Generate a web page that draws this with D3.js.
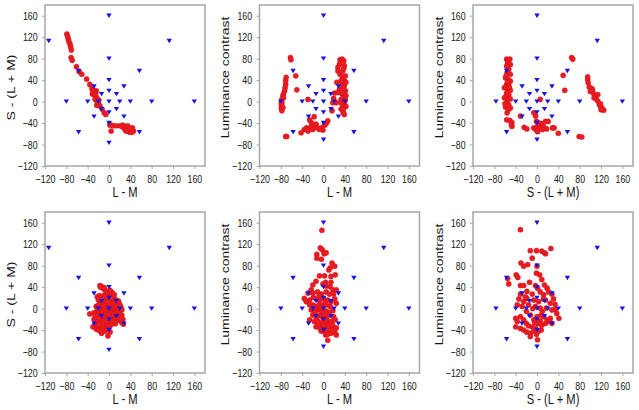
<!DOCTYPE html>
<html><head><meta charset="utf-8">
<script src="https://cdn.jsdelivr.net/npm/d3@7"></script>
<style>
body{margin:0;background:#fff;}
svg{display:block;font-family:"Liberation Sans",Arial,Helvetica,sans-serif;}
</style>
</head><body>
<svg id="chart" width="639" height="410"></svg>
<script>
// ---------- data ----------
const tickValues = [-120, -80, -40, 0, 40, 80, 120, 160];

const xTitles = ["L - M", "L - M", "S - (L + M)", "L - M", "L - M", "S - (L + M)"];
const yTitles = ["S - (L + M)", "Luminance contrast", "Luminance contrast",
                 "S - (L + M)", "Luminance contrast", "Luminance contrast"];

// reference stimuli (blue triangles)
const refA = [[0,160],[-113,113],[113,113],[0,80],[-57,57],[57,57],[0,40],[-28,28],[28,28],[0,20],
  [-14,14],[14,14],[-80,0],[-40,0],[-20,0],[0,0],[20,0],[40,0],[80,0],[160,0],[-14,-14],[14,-14],
  [0,-20],[-28,-28],[28,-28],[0,-40],[-57,-57],[57,-57],[0,-77]];
const refB = [[0,160],[113,113],[0,80],[-57,57],[57,57],[0,40],[-28,28],[28,28],[0,20],
  [-14,14],[14,14],[-80,0],[-40,0],[-20,0],[0,0],[20,0],[40,0],[80,0],[160,0],[-14,-14],[14,-14],
  [0,-20],[-28,-28],[28,-28],[0,-40],[-57,-57],[57,-57],[0,-71]];
const refC = [[0,160],[113,113],[0,80],[-57,57],[57,57],[0,40],[-28,28],[28,28],[0,20],
  [-14,14],[14,14],[-77,0],[-40,0],[-20,0],[0,0],[20,0],[40,0],[80,0],[160,0],[-14,-14],[14,-14],
  [0,-20],[-28,-28],[28,-28],[0,-40],[-57,-57],[57,-57],[0,-71]];

// responses (red dots)
const resp1 = [[-79,126],[-77.5,121],[-76,116],[-75,111],[-73,107],[-72,102],[-70.6,96],[-71,82],[-69,77],
  [-61,65],[-56,56],[-51,51],[-42,42],[-36,32],[-32,24],[-29,22],[-27.5,17],[-26,11],[-23,7],[-22,1],
  [-20,-3],[-17,-8],[-13,-14],[-9,-21],[-6,-24],[-31,14],[-24,20],[-26,4],[-19,3],[-23,-7],[-30,18],
  [-25,14],[-21,-1],
  [2,-44],[4,-55],[8,-45],[14,-45],[21,-45],[26,-44],[30,-47],[33,-49],[35,-52],[38,-53],[41,-52],
  [42,-55],[46,-55],[39,-57],[36,-55],[44,-49],[30,-52],[35,-45],[32,-55],[27,-48],[2,-42],[24,-46],
  [40,-50],[43,-57]];

const resp2 = [[-70,45],[-71,39],[-71,32],[-72,26],[-73,20],[-75,14],[-76,11],[-78,4],[-79,-1],[-79,-7],
  [-79,-13],[-78,-17],[-76,-11],[-78,-3],[-75,7],[-62,82],[-61,78],[-52,48],[-50,22],[-71,-65],[-69,-65],
  [-42,-58],[-36,-52],[-32,-49],[-29,-55],[-26,-50],[-23,-47],[-20,-52],[-17,-45],[-14,-42],[-11,-49],
  [-23,-39],[-26,-34],[-17.5,-28],[-29,4],[-4,-49],[2,-44],[5,-41],[8,-36],[-1,-53],[-7.5,-52],[-30,-53],
  [16,-17],[17.5,-2],[19,6],[21,16],
  [31,78],[35,79],[38,76],[30,70],[27,64],[27,57],[31,51],[36,57],[39,67],[36,45],[39,39],[35,32],[39,29],
  [36,23],[41,20],[35,14],[39,9],[33,4],[39,-2],[36,-8],[42,-9],[33,-14],[37,-21],[39,-24],[41,48],[42,36],
  [37,26],[42,11],[33,39],[30,23],[27,17],[33,-2],[24,-2],[25,36],[38,62],[41,3],[37,-15]];

const resp3 = [[-57,79],[-51,79],[-55,72],[-50,69],[-57,66],[-53,60],[-56,54],[-50,51],[-59,44],[-54,41],
  [-50,38],[-57,32],[-53,30],[-61,26],[-55,22],[-50,21],[-57,16],[-53,13],[-59,9],[-55,4],[-50,5],[-57,-2],
  [-53,-6],[-59,-10],[-54,-15],[-50,-12],[-56,-21],[-61,7],[-57,-34],[-51,-35],[-48,-43],[-47,-39],[-47,-46],
  [-58,48],[-52,26],[-60,-4],[-55,36],
  [-31,-27],[-24,-48],[-19,-51],[-6,-49],[-2.5,-52],[1,-46],[4,-49],[1,-56],[-2.5,-27],[-1,-37],[4,-40],
  [8,-41],[12,-46],[18,-51],[16,-37],[21,-37],[29,-49],[32,-49],[10,-52],[40,-59],[6,4],[-6,-21],
  [49,49],[52,21],[65,82],[67,79],[79,-65],[84,-66],
  [95,46],[95,41],[96,35],[98,27],[103,24],[104,21],[106,15],[109,10],[111,5],[114,1],[117,-6],[120,-10],
  [123,-14],[125,-16],[120,-15],[119,-4],[114,13],[107,7],[100,19]];

const resp4 = [[-17,43],[-14,41],[-12,39],[-10,37],[-8,35],[-6,33],[-4,31],[-2,29],[0,27],[-16,40],[-9,39],
  [-22,22],[-18,24],[-14,20],[-10,24],[-6,22],[-2,24],[2,22],[6,20],[10,18],[14,16],[-4,18],[0,16],[4,14],
  [8,12],[12,10],[16,12],[20,8],[-20,16],[-16,12],[-12,8],[-8,12],[-4,10],[0,8],[4,6],[8,4],[12,2],[16,4],
  [20,0],[24,-2],[-24,4],[-20,6],[-16,2],[-12,0],[-8,4],[-4,2],[0,0],[4,-2],[8,-4],[12,-6],[16,-8],[20,-10],
  [24,-12],[26,-20],[22,-16],[18,-14],[14,-12],[10,-10],[6,-8],[2,-6],[-2,-4],[-6,-6],[-10,-4],[-14,-6],
  [-18,-2],[-22,-4],[-28,-8],[-36,-10],[-26,-14],[-20,-12],[-16,-16],[-12,-14],[-8,-12],[-4,-14],[0,-12],
  [4,-16],[8,-14],[12,-18],[16,-20],[20,-22],[24,-26],[27,-29],
  [-28,-20],[-24,-22],[-20,-24],[-16,-26],[-12,-24],[-8,-22],[-4,-24],[0,-26],[-26,-30],[-22,-32],[-18,-30],
  [-14,-34],[-10,-30],[-6,-34],[-2,-32],[-30,-34],[-24,-38],[-20,-40],[-16,-42],[-12,-38],[-8,-42],[-4,-38],
  [-2,-51],[-14,-46],[0,-36],[2,-44],
  [18,14],[22,4],[10,26],[6,30],[2,34],[4,20],[-2,12],[8,-20],[12,-28],[4,-30],[6,-24]];

const resp5 = [[-3,146],[-6,113],[-2.5,110],[2,104],[5,104],[1,102],[-12.5,101],[-12.5,94],[-4,92],[16,85],
  [21,79],[12.5,76],[10,72],[-7.5,61],[2,61],[22,63],[14,60],[-14,51],[4,49],[-1,46],[5,42],[14,49],[12.5,41],
  [-20,44],[-23,35],[17.5,35],[24,35],[-29,29],[-20,29],[-11,31],[-4,27],[5,31],[11,27],[19,27],[-36,19],
  [-32.5,13],[-26,16],[-19,21],[-12.5,18],[-7.5,16],[0,19],[8,16],[14,13],[21,18],[24,10],[-26,7],[-20,7],
  [-14,4],[-7.5,8],[-2.5,5],[5,7],[12.5,4],[-23,-2.5],[-15,-4],[-9,-2.5],[-2.5,-6],[4,-4],[10,-7],[17.5,-4],
  [-20,-12],[-14,-15],[-7.5,-13],[-1,-17],[5,-15],[11,-12],[19,-15],[-26,-21],[-17,-24],[-11,-23],[-4,-26],
  [2,-24],[8,-27.5],[14,-24],[22,-21],[-14,-34],[-7.5,-32],[-1,-36],[5,-34],[11,-39],[17.5,-32],[24,-36],
  [-4,-42],[2,-43],[8,-42],[14,-46],[21,-44],[24,-49],[8,-59],[4,-49],
  [-5,2],[0,-8],[6,-20],[-10,-30],[10,-32],[16,-30],[0,-30],[-6,-38],[8,-48],[18,-40],[-16,-8],[2,10],[-8,24]];

const resp6 = [[-31,147],[-12.5,108],[-1,108],[9,107],[14,104],[16,102],[26,112],[-30,85],[-25,79],[-17.5,82],
  [-9,94],[0,79],[-1,66],[5,63],[9,54],[-39,63],[-36,58],[-53,46],[-55,56],[-31,43],[-25,43],[-14,49],[-3,43],
  [1,38],[14,44],[19,38],[22,31],[28,27],[-31,27],[-19,32],[-9,27],[6,31],[12.5,26],[31,18],[34,8],[34,-1],
  [37,-9],[41,-18],[-34,18],[-25,13],[-19,19],[-6,16],[3,13],[16,16],[25,10],[-37,7],[-28,4],[-16,7],[-3,4],
  [6,1],[17.5,1],[28,-2.5],[-40,-18],[-37,-24],[-40,-34],[-31,-15],[-25,-21],[-20,-27.5],[-12.5,-12],
  [-6,-21],[0,-15],[6,-23],[12.5,-15],[19,-21],[25,-18],[-31,-37],[-25,-40],[-19,-44],[-12.5,-46],[-9,-34],
  [-3,-37],[3,-42],[9,-31],[16,-27.5],[22,-24],[28,-27.5],[-1,-48],[1,-58],[-6,-42],[-12.5,-52],
  [-20,-5],[10,-5],[-8,0],[2,-28],[8,-40],[-16,-32],[12,18],[-22,22],[8,-12],[-4,-26]];

const responses = [resp1, resp2, resp3, resp4, resp5, resp6];
const references = [refA, refB, refC, refA, refB, refC];

// ---------- drawing ----------
const svg = d3.select("#chart");
svg.append("rect").attr("width", 639).attr("height", 410).attr("fill", "#fff");

const panelPos = [[45,5],[259.5,5],[473,5],[45,212],[259.5,212],[473,212]];
const W = 160, H = 161;
const yTitleShift = [2,-8,-8,2,-8,-8];
const grey = "#a6a6a6";
const squeeze = 0.8;   // the original figure's lettering is horizontally compressed

const triangleDown = {
  draw(ctx, size) {
    const w = 2.7, h = 2.2;
    ctx.moveTo(-w, -h);
    ctx.lineTo(w, -h);
    ctx.lineTo(0, h);
    ctx.closePath();
  }
};

panelPos.forEach(([px, py], i) => {
  const g = svg.append("g").attr("transform", `translate(${px},${py})`);
  const x = d3.scaleLinear().domain([-120, 180]).range([0, W]);
  const y = d3.scaleLinear().domain([-120, 180]).range([H, 0]);

  const xa = g.append("g").attr("transform", `translate(0,${H})`)
    .call(d3.axisBottom(x).tickValues(tickValues).tickSize(3).tickPadding(6.5).tickFormat(d3.format("d")));
  const ya = g.append("g")
    .call(d3.axisLeft(y).tickValues(tickValues).tickSize(3).tickPadding(6.2).tickFormat(d3.format("d")));
  [xa, ya].forEach(a => {
    a.select(".domain").remove();
    a.selectAll(".tick line").attr("stroke", grey).attr("stroke-width", 1);
    a.selectAll(".tick text").attr("fill", "#151515").style("font-size", "11px")
      .style("font-family", '"Liberation Sans",Arial,Helvetica,sans-serif')
      .attr("transform", `scale(${squeeze},1)`);
  });

  g.append("rect").attr("x", 0).attr("y", 0).attr("width", W).attr("height", H)
    .attr("fill", "none").attr("stroke", grey).attr("stroke-width", 1.5);

  g.append("g").selectAll("circle").data(responses[i]).join("circle")
    .attr("cx", d => x(d[0])).attr("cy", d => y(d[1])).attr("r", 2.6)
    .attr("fill", "#ea1c20").attr("stroke", "#d01018").attr("stroke-width", 0.4);

  const sym = d3.symbol().type(triangleDown);
  g.append("g").selectAll("path").data(references[i]).join("path")
    .attr("transform", d => `translate(${x(d[0])},${y(d[1])})`)
    .attr("d", sym).attr("fill", "#1414e6");

  g.append("g").attr("transform", `translate(${W / 2},${H + 30.5}) scale(${squeeze},1)`)
    .append("text").attr("text-anchor", "middle")
    .attr("fill", "#151515").style("font-size", "14px").text(xTitles[i]);
  g.append("g").attr("transform", `translate(-30.5,${H / 2 + yTitleShift[i]}) scale(${squeeze},1)`)
    .append("text").attr("transform", "rotate(-90)").attr("text-anchor", "middle")
    .attr("fill", "#151515").style("font-size", "14px").text(yTitles[i]);
});
</script>
</body></html>
